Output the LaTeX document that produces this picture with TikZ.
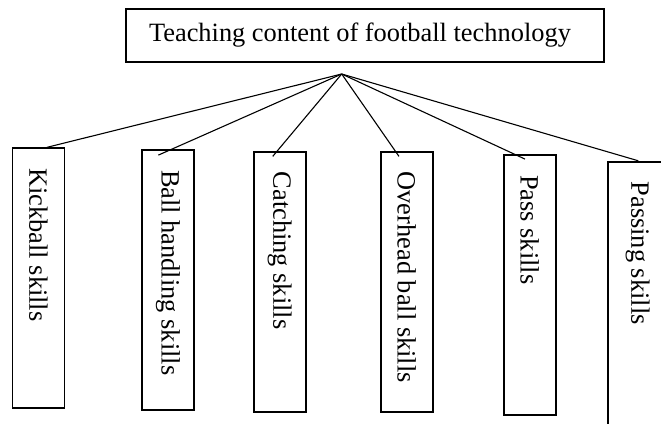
\documentclass[tikz,border=0pt]{standalone}
\usepackage{fontspec}
\setmainfont{Liberation Serif}
\usepackage{tikz}
\usetikzlibrary{positioning, calc}

\begin{document}
\begin{tikzpicture}[x=1pt, y=-1pt, font=\fontsize{26.4}{30}\selectfont,
    rootbox/.style={draw, line width=1.8pt, minimum height=53pt, inner xsep=23pt, inner ysep=0pt, text width=432pt, align=flush left},
    skillbox/.style={draw, line width=1.8pt, rotate=-90, minimum height=52pt, inner xsep=20pt, inner ysep=0pt, text width=220pt, align=flush left},
    link/.style={line width=1.1pt}]

    \clip (0,0) rectangle (661,423);

    \node[rootbox] (root) at (365,35.5) {Teaching content of football technology};
    \coordinate (hub) at (341.7,74);

    \node[skillbox] (kick) at (38.5,278.3) {Kickball skills};
    \node[skillbox] (handle) at (167.9,280) {Ball handling skills};
    \node[skillbox] (catch) at (279.7,281.7) {Catching skills};
    \node[skillbox] (overhead) at (406.7,281.7) {Overhead ball skills};
    \node[skillbox] (pass) at (529.7,285) {Pass skills};
    \node[skillbox, minimum height=60pt, text width=240pt] (passing) at (637.7,301.7) {Passing skills};

    \draw[link] (hub) -- ($(kick.west)+(8.2,0)$);
    \draw[link] (hub) -- ($(handle.west)+(-9.5,6)$);
    \draw[link] (hub) -- ($(catch.west)+(-7,5.6)$);
    \draw[link] (hub) -- ($(overhead.west)+(-7.7,5.6)$);
    \draw[link] (hub) -- ($(pass.west)+(-4.7,5)$);
    \draw[link] (hub) -- ($(passing.west)+(0.6,0)$);

\end{tikzpicture}
\end{document}
